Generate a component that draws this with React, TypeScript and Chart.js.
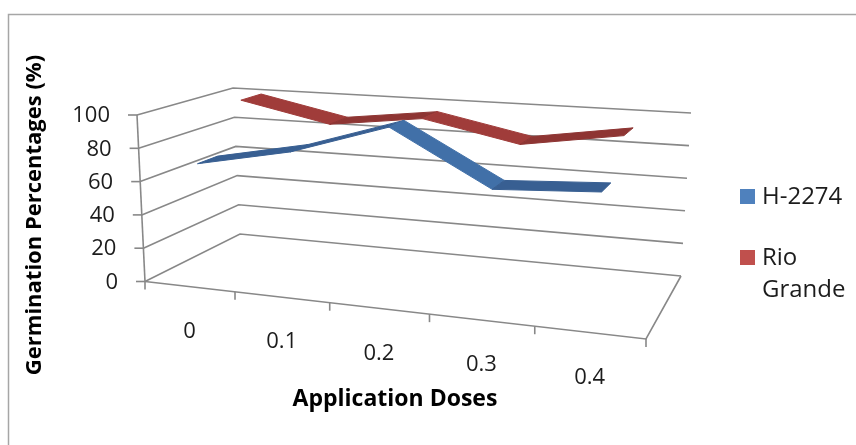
import React, { useEffect, useRef } from 'react';
import { Chart, registerables } from 'chart.js';

Chart.register(...registerables);

// ---------- data ----------
const doses = ['0', '0.1', '0.2', '0.3', '0.4'];
const h2274 = [70, 81, 99, 68, 71];
const rioGrande = [100, 88, 95, 83, 92];
const seriesNames = ['H-2274', 'Rio Grande'];
const legendColors = ['#4F81BD', '#C0504D'];
const ribbonColors = ['#4170A8', '#A03C3A'];
const ribbonDark = ['#385F92', '#8E3533'];
const yMin = 0;
const yMax = 100;
const yStep = 20;
const xTitle = 'Application Doses';
const yTitle = 'Germination Percentages (%)';

// ---------- 3D frame (layout) ----------
const F0 = [145, 281.5]; // front bottom-left
const F1 = [646, 339]; // front bottom-right
const F2 = [137, 115]; // front top-left
const F3 = [657, 146]; // front top-right
const B0 = [240, 234]; // back bottom-left
const B1 = [681, 276]; // back bottom-right
const B2 = [233, 88]; // back top-left
const B3 = [691, 113]; // back top-right
const PERSP = -0.124;
const RIBBON_HALF = 0.112;

function proj(u: number, v: number, z: number): [number, number] {
  const t = ((1 + PERSP) * u) / (1 + PERSP * u);
  const bil = (P0: number[], P1: number[], P2: number[], P3: number[]) => {
    const bx = P0[0] + (P1[0] - P0[0]) * t;
    const by = P0[1] + (P1[1] - P0[1]) * t;
    const tx = P2[0] + (P3[0] - P2[0]) * t;
    const ty = P2[1] + (P3[1] - P2[1]) * t;
    return [bx + (tx - bx) * v, by + (ty - by) * v];
  };
  const f = bil(F0, F1, F2, F3);
  const b = bil(B0, B1, B2, B3);
  return [f[0] + (b[0] - f[0]) * z, f[1] + (b[1] - f[1]) * z];
}

const FONT = '"Open Sans", "Noto Sans", sans-serif';

const frame3d = {
  id: 'frame3d',
  beforeDraw(chart: any) {
    const ctx = chart.ctx;
    ctx.save();
    ctx.fillStyle = '#ffffff';
    ctx.fillRect(0, 0, chart.width, chart.height);
    ctx.strokeStyle = '#a6a6a6';
    ctx.lineWidth = 1.5;
    ctx.strokeRect(8.5, 14.5, chart.width + 20, chart.height + 20);
    ctx.restore();
  },
  afterDatasetsDraw(chart: any) {
    const ctx = chart.ctx;
    const ca = chart.chartArea;
    const xs = chart.scales.x;
    const ys = chart.scales.y;
    const toU = (px: number) => (px - ca.left) / (ca.right - ca.left);
    const toV = (py: number) => (ca.bottom - py) / (ca.bottom - ca.top);

    let tickVals: number[] = (ys.ticks || []).map((t: any) => t.value);
    if (!tickVals.length) {
      tickVals = [];
      for (let v = yMin; v <= yMax; v += yStep) tickVals.push(v);
    }

    ctx.save();
    ctx.lineCap = 'butt';
    ctx.lineJoin = 'miter';
    ctx.strokeStyle = '#888888';
    ctx.lineWidth = 1.6;

    const line = (pts: [number, number][]) => {
      ctx.beginPath();
      ctx.moveTo(pts[0][0], pts[0][1]);
      for (let i = 1; i < pts.length; i++) ctx.lineTo(pts[i][0], pts[i][1]);
      ctx.stroke();
    };

    // gridlines on left wall + back wall
    tickVals.forEach((val) => {
      const v = toV(ys.getPixelForValue(val));
      line([proj(0, v, 0), proj(0, v, 1), proj(1, v, 1)]);
    });
    // front vertical axis
    line([proj(0, 0, 0), proj(0, 1, 0)]);
    // floor front & right edges
    line([proj(0, 0, 0), proj(1, 0, 0), proj(1, 0, 1)]);

    // y ticks + labels
    ctx.fillStyle = '#1c1c1c';
    ctx.font = `22px ${FONT}`;
    ctx.textAlign = 'right';
    ctx.textBaseline = 'middle';
    tickVals.forEach((val) => {
      const v = toV(ys.getPixelForValue(val));
      const p = proj(0, v, 0);
      line([p, [p[0] - 9, p[1]]]);
      ctx.fillText(String(val), p[0] - 27, p[1] + 1);
    });

    // x ticks
    for (let i = 0; i <= doses.length; i++) {
      const u = toU(xs.getPixelForValue(i - 0.5));
      const p = proj(u, 0, 0);
      line([p, [p[0], p[1] + 8]]);
    }
    // x labels
    ctx.textAlign = 'center';
    doses.forEach((lab, i) => {
      const u = toU(xs.getPixelForValue(i));
      const p = proj(u, 0, 0);
      ctx.fillText(lab, p[0], p[1] + 45);
    });

    // ribbons (back series first)
    const n = chart.data.datasets.length;
    for (let di = n - 1; di >= 0; di--) {
      const meta = chart.getDatasetMeta(di);
      const pts = meta.data.map((el: any) => [toU(el.x), toV(el.y)]);
      const zc = (di + 0.5) / n;
      const z0 = zc - RIBBON_HALF;
      const z1 = zc + RIBBON_HALF;
      for (let i = 0; i < pts.length - 1; i++) {
        const a = pts[i];
        const b = pts[i + 1];
        const q = [proj(a[0], a[1], z0), proj(b[0], b[1], z0), proj(b[0], b[1], z1), proj(a[0], a[1], z1)];
        const col = b[1] < a[1] - 0.05 ? ribbonColors[di] : ribbonDark[di];
        ctx.fillStyle = col;
        ctx.strokeStyle = col;
        ctx.lineWidth = 1;
        ctx.beginPath();
        ctx.moveTo(q[0][0], q[0][1]);
        for (let k = 1; k < 4; k++) ctx.lineTo(q[k][0], q[k][1]);
        ctx.closePath();
        ctx.fill();
        ctx.stroke();
      }
    }

    // axis titles
    ctx.fillStyle = '#000000';
    ctx.font = `bold 23px ${FONT}`;
    ctx.textAlign = 'center';
    ctx.textBaseline = 'middle';
    ctx.fillText(xTitle, 395, 399);
    ctx.save();
    ctx.translate(35, 215);
    ctx.rotate(-Math.PI / 2);
    ctx.font = `bold 22px ${FONT}`;
    ctx.fillText(yTitle, 0, 0);
    ctx.restore();

    // legend
    ctx.font = `24px ${FONT}`;
    ctx.textAlign = 'left';
    ctx.textBaseline = 'middle';
    const legendTops = [197, 258];
    chart.data.datasets.forEach((ds: any, di: number) => {
      const cy = legendTops[di];
      ctx.fillStyle = legendColors[di];
      ctx.fillRect(740, cy - 8, 15, 15);
      ctx.fillStyle = '#1c1c1c';
      const words = String(ds.label).split(' ');
      const lines: string[] = [];
      let cur = '';
      words.forEach((w) => {
        const test = cur ? cur + ' ' + w : w;
        if (ctx.measureText(test).width > 90 && cur) {
          lines.push(cur);
          cur = w;
        } else cur = test;
      });
      if (cur) lines.push(cur);
      lines.forEach((l, k) => ctx.fillText(l, 762, cy + k * 32));
    });

    ctx.restore();
  },
};

export default function App() {
  const ref = useRef<HTMLCanvasElement | null>(null);
  useEffect(() => {
    if (!ref.current) return;
    const chart = new Chart(ref.current, {
      type: 'line',
      data: {
        labels: doses,
        datasets: [
          { label: seriesNames[0], data: h2274, borderColor: 'rgba(0,0,0,0)', backgroundColor: legendColors[0], borderWidth: 0, pointRadius: 0 },
          { label: seriesNames[1], data: rioGrande, borderColor: 'rgba(0,0,0,0)', backgroundColor: legendColors[1], borderWidth: 0, pointRadius: 0 },
        ],
      },
      options: {
        responsive: false,
        maintainAspectRatio: false,
        animation: false,
        devicePixelRatio: 1,
        layout: { padding: 0 },
        plugins: { legend: { display: false }, tooltip: { enabled: false } },
        scales: {
          x: { type: 'category', display: false, offset: true },
          y: { type: 'linear', display: false, min: yMin, max: yMax, ticks: { stepSize: yStep } },
        },
      },
      plugins: [frame3d],
    });
    return () => chart.destroy();
  }, []);
  return (
    <div style={{ position: 'fixed', left: 0, top: 0, width: 856, height: 445 }}>
      <canvas ref={ref} width={856} height={445} style={{ display: 'block', width: 856, height: 445 }} />
    </div>
  );
}
